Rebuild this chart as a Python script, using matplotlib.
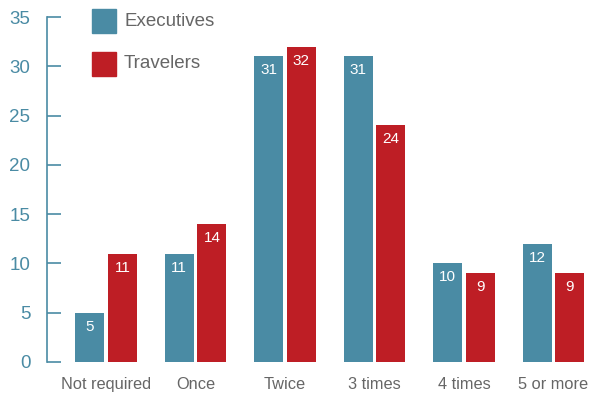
import matplotlib
matplotlib.use("Agg")
import matplotlib.pyplot as plt
import numpy as np
from matplotlib.patches import Rectangle

categories = ["Not required", "Once", "Twice", "3 times", "4 times", "5 or more"]
executives = [5, 11, 31, 31, 10, 12]
travelers = [11, 14, 32, 24, 9, 9]
y_ticks = [0, 5, 10, 15, 20, 25, 30, 35]

teal = "#4a8ba4"
red = "#be1e25"
gray = "#666666"

plt.rcParams["font.family"] = ["Liberation Sans", "DejaVu Sans"]

fig = plt.figure(figsize=(5.91, 3.94), dpi=100)
ax = fig.add_axes([47 / 591, 32 / 394, 544 / 591, 345 / 394])

x = np.arange(len(categories))
w = 0.325
off = 0.183
b1 = ax.bar(x - off, executives, w, color=teal)
b2 = ax.bar(x + off, travelers, w, color=red)

# value labels inside the top of each bar
for bars, vals in ((b1, executives), (b2, travelers)):
    for bar, v in zip(bars, vals):
        ax.annotate(str(v), (bar.get_x() + bar.get_width() / 2, v),
                    xytext=(0, -14), textcoords="offset pixels",
                    ha="center", va="center", color="white", fontsize=11)

ax.set_xlim(-0.66, 5.42)
ax.set_ylim(0, 35)
ax.set_yticks(y_ticks)
ax.set_xticks(x)
ax.set_xticklabels(categories, color=gray, fontsize=11.8)
ax.tick_params(axis="y", direction="in", length=10, width=1.2, color=teal,
               labelcolor=teal, labelsize=13.5, pad=12)
ax.tick_params(axis="x", length=0, pad=11)
for s in ("top", "right", "bottom"):
    ax.spines[s].set_visible(False)
ax.spines["left"].set_color(teal)
ax.spines["left"].set_linewidth(1.2)

# legend drawn as squares with labels
for i, (label, col) in enumerate((("Executives", teal), ("Travelers", red))):
    ytop = 9 + i * 43
    fig.patches.append(Rectangle((92 / 591, 1 - (ytop + 24) / 394), 24 / 591, 24 / 394,
                                 transform=fig.transFigure, color=col))
    fig.text(124 / 591, 1 - (ytop + 12) / 394, label, color=gray, fontsize=13.5,
             va="center", ha="left")

fig.savefig("out.png", dpi=100)
